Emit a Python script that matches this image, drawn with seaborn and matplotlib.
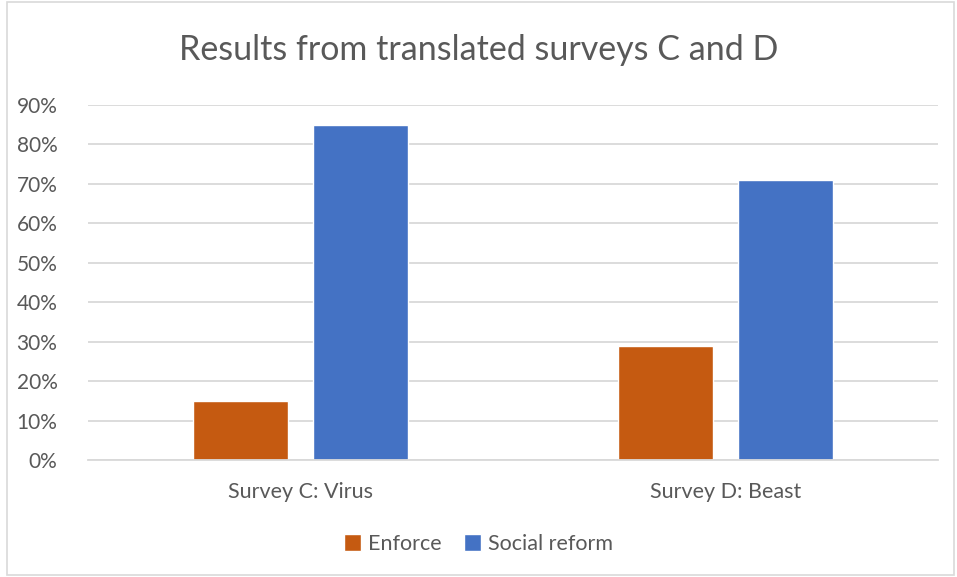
import matplotlib
matplotlib.use("Agg")
import matplotlib.pyplot as plt
from matplotlib.patches import Rectangle
from matplotlib.ticker import PercentFormatter, MultipleLocator
import seaborn as sns
import pandas as pd

# Survey results
surveys = ["Survey C: Virus", "Survey D: Beast"]
responses = ["Enforce", "Social reform"]
enforce = [0.15, 0.29]
social_reform = [0.85, 0.71]
palette = ["#C55A11", "#4472C4"]

df = pd.DataFrame({
    "survey": surveys * 2,
    "response": [responses[0]] * 2 + [responses[1]] * 2,
    "share": enforce + social_reform,
})

sns.set_theme(style="white")
plt.rcParams["font.family"] = ["Lato", "DejaVu Sans"]

text_color = "#595959"
grid_color = "#D9D9D9"

fig = plt.figure(figsize=(9.57, 5.77), dpi=100)
ax = fig.add_axes([88 / 957, 1 - 460 / 577, 850 / 957, 355 / 577])

sns.barplot(data=df, x="survey", y="share", hue="response",
            hue_order=responses, order=surveys, palette=palette,
            width=0.566, gap=0.21, saturation=1, ax=ax, legend=True)

ax.set_xlim(-0.5, 1.5)
ax.set_ylim(0, 0.9)
ax.yaxis.set_major_locator(MultipleLocator(0.1))
ax.yaxis.set_major_formatter(PercentFormatter(1.0, decimals=0))
ax.set_axisbelow(True)
ax.yaxis.grid(True, color=grid_color, linewidth=1.3)
ax.set_xlabel("")
ax.set_ylabel("")
for side in ["left", "right", "top"]:
    ax.spines[side].set_visible(False)
ax.spines["bottom"].set_color(grid_color)
ax.spines["bottom"].set_linewidth(1.3)
ax.tick_params(axis="x", length=0, colors=text_color, labelsize=15.5, pad=16)
ax.tick_params(axis="y", length=0, colors=text_color, labelsize=15, pad=22)

fig.text(0.5, 1 - 50 / 577, "Results from translated surveys C and D",
         ha="center", va="center", fontsize=24.5, color=text_color)

handles, labels = ax.get_legend_handles_labels()
ax.legend_.remove()
fig.legend(handles, labels, loc="center", bbox_to_anchor=(0.5, 1 - 544 / 577),
           ncol=2, frameon=False, fontsize=15.5, labelcolor=text_color,
           handlelength=0.8, handleheight=0.8, handletextpad=0.35,
           columnspacing=1.0)

# chart border
fig.add_artist(Rectangle((7 / 957, 2 / 577), 947 / 957, 573 / 577,
                         transform=fig.transFigure, fill=False,
                         edgecolor=grid_color, linewidth=1.2))

fig.savefig("out.png", dpi=100)
